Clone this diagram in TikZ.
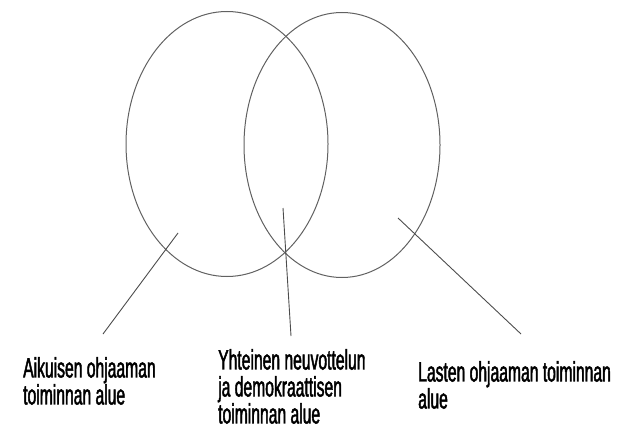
\documentclass[tikz,border=0pt]{standalone}
\usepackage{fontspec}
\newfontfamily\labelfont[FakeStretch=0.56,FakeBold=1.6]{Liberation Sans}
\usetikzlibrary{shapes.geometric}

\begin{document}
\begin{tikzpicture}[
  x=1pt, y=-1pt,
  area/.style={draw=black!62, line width=1pt, ellipse, inner sep=0pt},
  pointer/.style={draw=black!70, line width=0.9pt},
  label/.style={anchor=north west, inner sep=0pt, align=left, font=\labelfont\fontsize{28}{27}\selectfont}
]
\useasboundingbox (0,0) rectangle (628,433);

\node[area, minimum width=202, minimum height=265] (adult) at (227,144) {};
\node[area, minimum width=196, minimum height=265] (child) at (342,145) {};

\coordinate (adultin)  at (178,233);
\coordinate (sharedin) at (283,208);
\coordinate (childin)  at (398,218);
\coordinate (adultend)  at (103,334);
\coordinate (sharedend) at (291,336);
\coordinate (childend)  at (521,334);

\draw[pointer] (adultin) -- (adultend);
\draw[pointer] (sharedin) -- (sharedend);
\draw[pointer] (childin) -- (childend);

\node[label] (adulttext)  at (23,357)  {Aikuisen ohjaaman\\toiminnan alue};
\node[label] (sharedtext) at (218,349) {Yhteinen neuvottelun\\ja demokraattisen\\toiminnan alue};
\node[label] (childtext)  at (418,361) {Lasten ohjaaman toiminnan\\alue};
\end{tikzpicture}
\end{document}
